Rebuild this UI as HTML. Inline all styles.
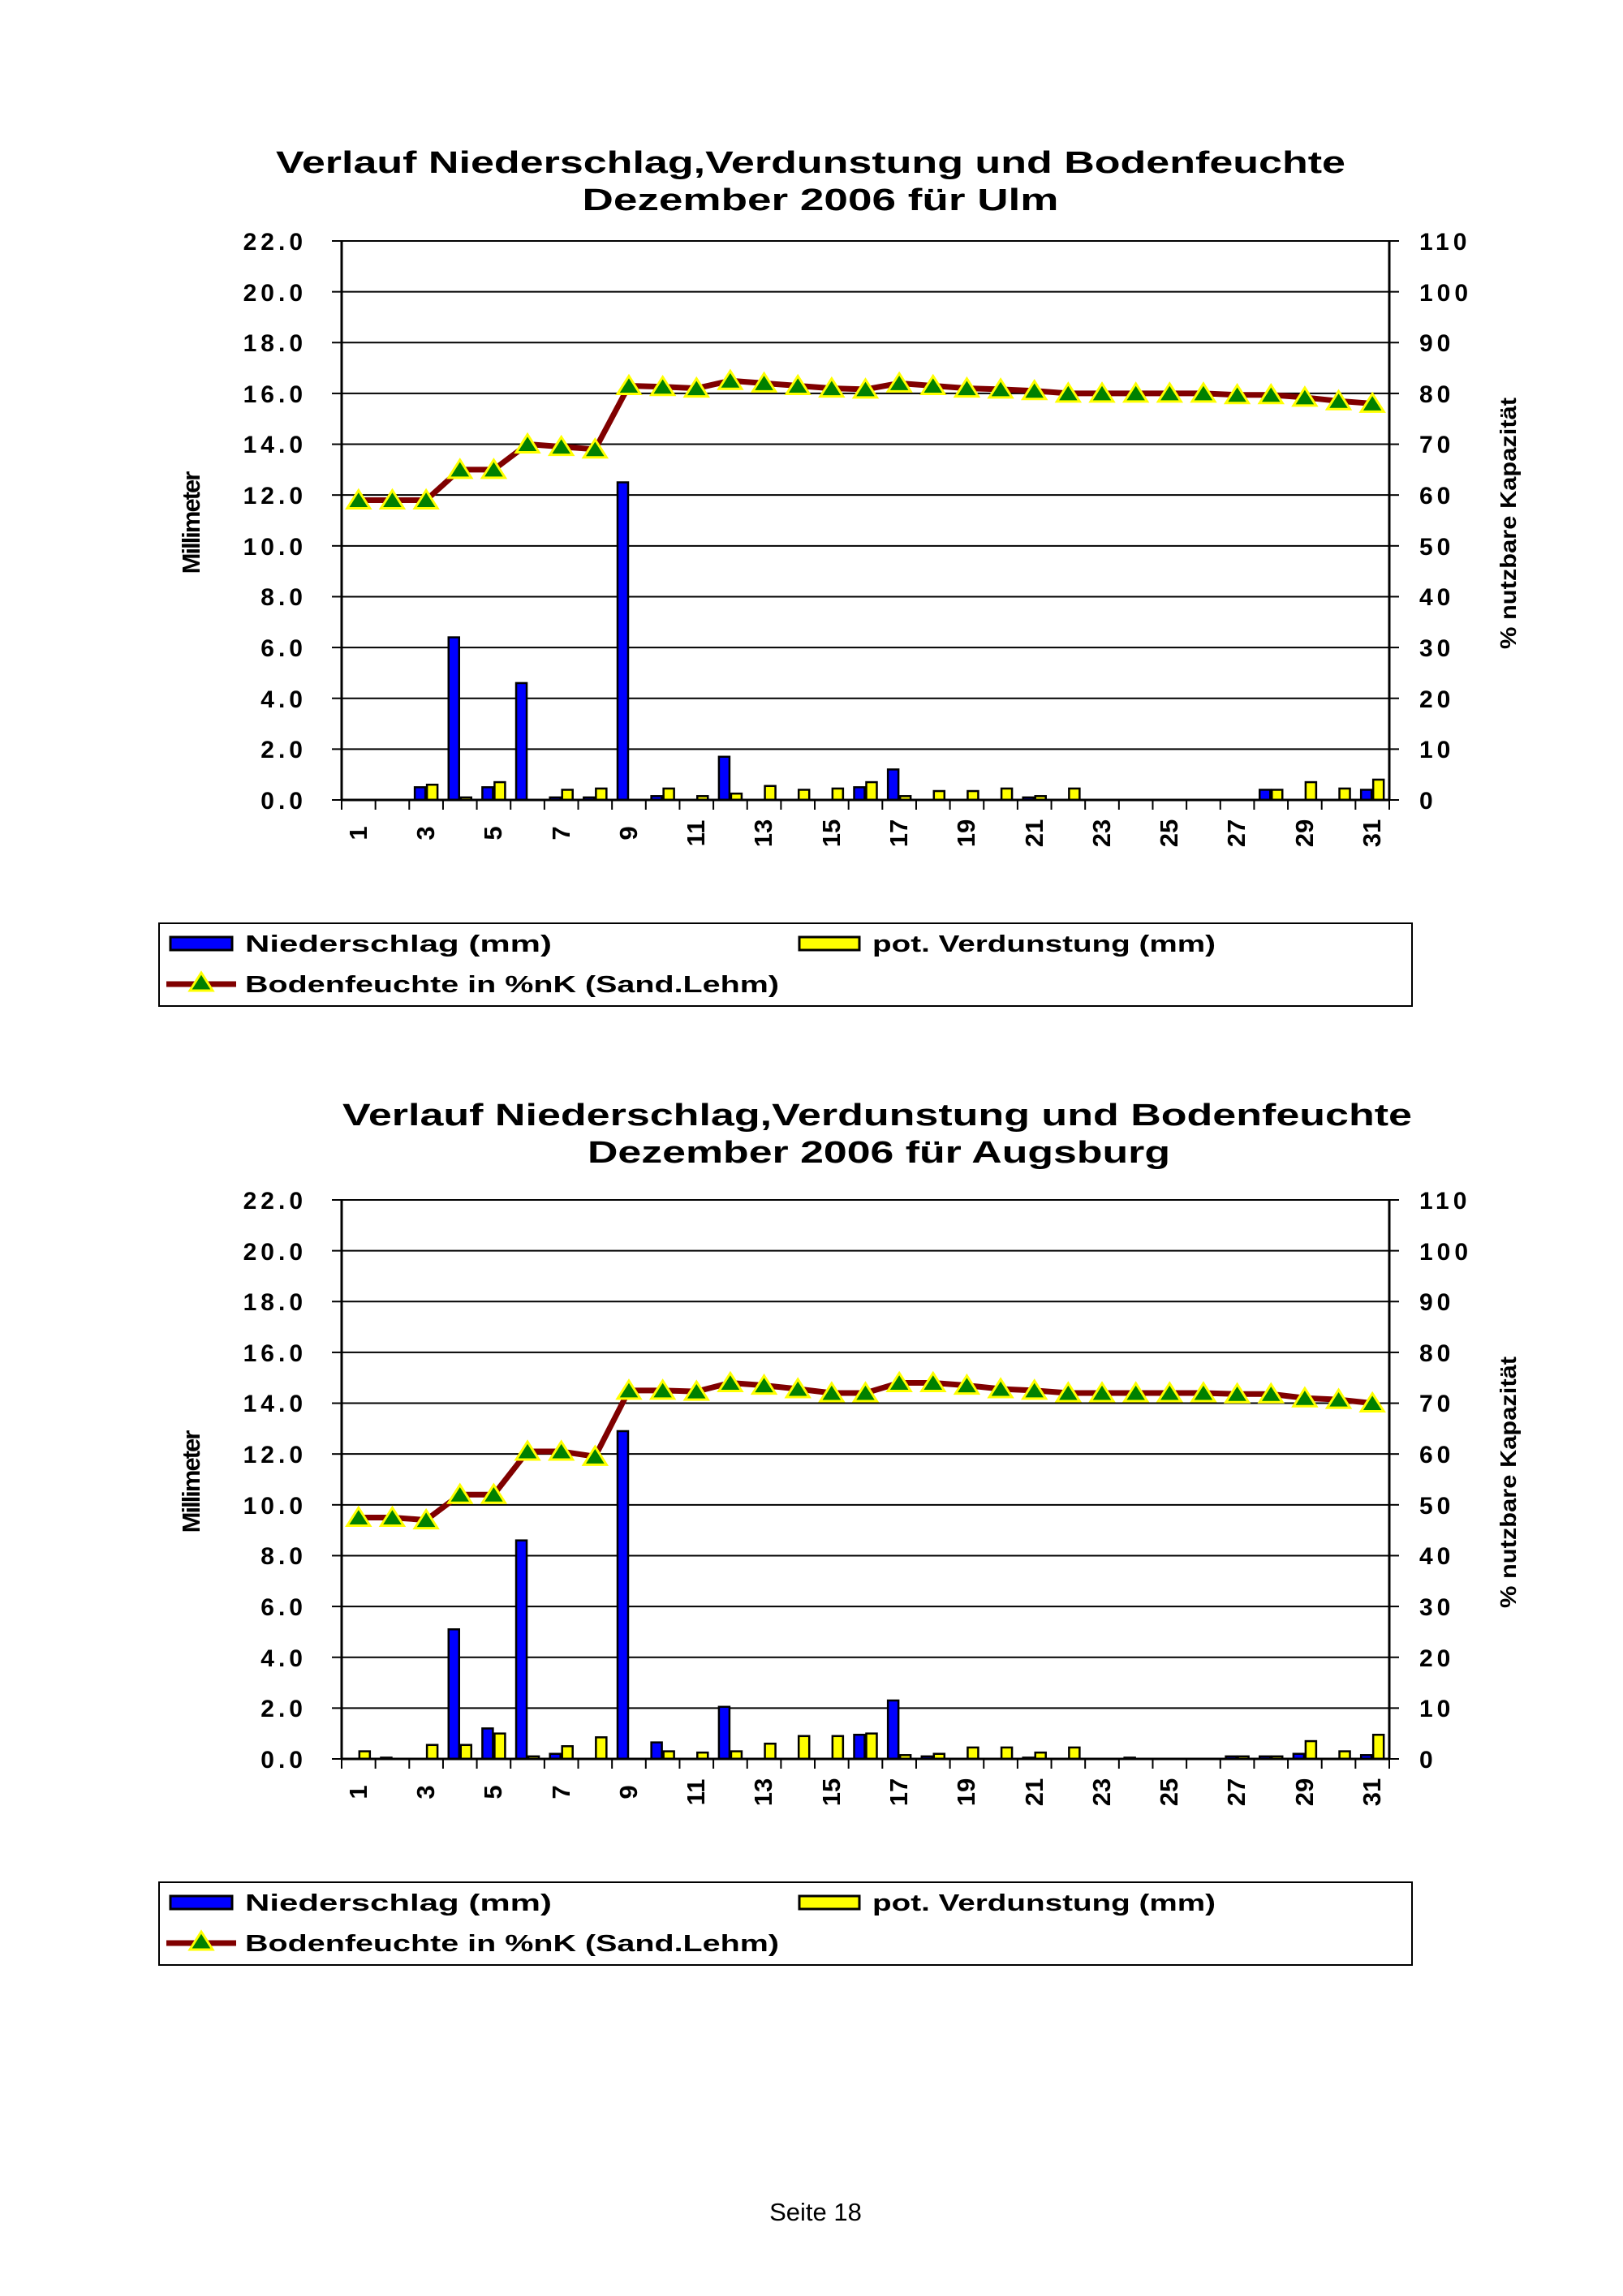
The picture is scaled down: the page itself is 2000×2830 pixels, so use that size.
<!DOCTYPE html>
<html><head><meta charset="utf-8"><style>
html,body{margin:0;padding:0;background:#fff}
svg{display:block}
text{font-family:"Liberation Sans",Arial,sans-serif;font-weight:bold;fill:#000}
.tk{font-size:30px;letter-spacing:5px}
.xl{font-size:31px}
</style></head><body>
<svg id="s" width="2000" height="2830" viewBox="0 0 2000 2830" xmlns="http://www.w3.org/2000/svg">
<rect width="2000" height="2830" fill="#fff"/>
<g id="c1">
<text x="999" y="213" font-size="38" textLength="1318" lengthAdjust="spacingAndGlyphs" text-anchor="middle">Verlauf Niederschlag,Verdunstung und Bodenfeuchte</text>
<text x="1011" y="259" font-size="38" textLength="587" lengthAdjust="spacingAndGlyphs" text-anchor="middle">Dezember 2006 für Ulm</text>
<g class="tk" text-anchor="end">
<text x="378" y="308">22.0</text><text x="378" y="371">20.0</text><text x="378" y="433">18.0</text><text x="378" y="496">16.0</text><text x="378" y="558">14.0</text><text x="378" y="621">12.0</text><text x="378" y="684">10.0</text><text x="378" y="746">8.0</text><text x="378" y="809">6.0</text><text x="378" y="872">4.0</text><text x="378" y="934">2.0</text><text x="378" y="997">0.0</text>
</g>
<g class="tk">
<text x="1749" y="308">110</text><text x="1749" y="371">100</text><text x="1749" y="433">90</text><text x="1749" y="496">80</text><text x="1749" y="558">70</text><text x="1749" y="621">60</text><text x="1749" y="684">50</text><text x="1749" y="746">40</text><text x="1749" y="809">30</text><text x="1749" y="872">20</text><text x="1749" y="934">10</text><text x="1749" y="997">0</text>
</g>
<g class="xl" text-anchor="middle">
<text transform="translate(452,1027) rotate(-90)">1</text><text transform="translate(535,1027) rotate(-90)">3</text><text transform="translate(618,1027) rotate(-90)">5</text><text transform="translate(702,1027) rotate(-90)">7</text><text transform="translate(785,1027) rotate(-90)">9</text><text transform="translate(868,1027) rotate(-90)">11</text><text transform="translate(951,1027) rotate(-90)">13</text><text transform="translate(1035,1027) rotate(-90)">15</text><text transform="translate(1118,1027) rotate(-90)">17</text><text transform="translate(1201,1027) rotate(-90)">19</text><text transform="translate(1285,1027) rotate(-90)">21</text><text transform="translate(1368,1027) rotate(-90)">23</text><text transform="translate(1451,1027) rotate(-90)">25</text><text transform="translate(1534,1027) rotate(-90)">27</text><text transform="translate(1618,1027) rotate(-90)">29</text><text transform="translate(1701,1027) rotate(-90)">31</text>
</g>
<text transform="translate(246,645) rotate(-90)" font-size="31" text-anchor="middle" letter-spacing="-2">Millimeter</text>
<text transform="translate(1868,645) rotate(-90)" font-size="28" text-anchor="middle" textLength="310" lengthAdjust="spacingAndGlyphs">% nutzbare Kapazität</text>
<rect x="196" y="1138" width="1544" height="102" fill="none" stroke="#000" stroke-width="2"/>
<rect x="210" y="1155" width="76" height="16" fill="#0000ff" stroke="#000" stroke-width="3"/>
<text x="302" y="1173" font-size="29" textLength="378" lengthAdjust="spacingAndGlyphs">Niederschlag (mm)</text>
<rect x="985" y="1155" width="74" height="16" fill="#ffff00" stroke="#000" stroke-width="3"/>
<text x="1075" y="1173" font-size="29" textLength="423" lengthAdjust="spacingAndGlyphs">pot. Verdunstung (mm)</text>
<line x1="205" y1="1213" x2="291" y2="1213" stroke="#800000" stroke-width="7"/>
<polygon points="248,1199 262,1221 234,1221" fill="#008000" stroke="#ffff00" stroke-width="3"/>
<text x="302" y="1223" font-size="29" textLength="658" lengthAdjust="spacingAndGlyphs">Bodenfeuchte in %nK (Sand.Lehm)</text>
<g id="p1"></g>
</g>
<g id="c2" transform="translate(0,1182)">
<text x="1081" y="205" font-size="38" textLength="1318" lengthAdjust="spacingAndGlyphs" text-anchor="middle">Verlauf Niederschlag,Verdunstung und Bodenfeuchte</text>
<text x="1083" y="251" font-size="38" textLength="718" lengthAdjust="spacingAndGlyphs" text-anchor="middle">Dezember 2006 für Augsburg</text>
<g class="tk" text-anchor="end">
<text x="378" y="308">22.0</text><text x="378" y="371">20.0</text><text x="378" y="433">18.0</text><text x="378" y="496">16.0</text><text x="378" y="558">14.0</text><text x="378" y="621">12.0</text><text x="378" y="684">10.0</text><text x="378" y="746">8.0</text><text x="378" y="809">6.0</text><text x="378" y="872">4.0</text><text x="378" y="934">2.0</text><text x="378" y="997">0.0</text>
</g>
<g class="tk">
<text x="1749" y="308">110</text><text x="1749" y="371">100</text><text x="1749" y="433">90</text><text x="1749" y="496">80</text><text x="1749" y="558">70</text><text x="1749" y="621">60</text><text x="1749" y="684">50</text><text x="1749" y="746">40</text><text x="1749" y="809">30</text><text x="1749" y="872">20</text><text x="1749" y="934">10</text><text x="1749" y="997">0</text>
</g>
<g class="xl" text-anchor="middle">
<text transform="translate(452,1027) rotate(-90)">1</text><text transform="translate(535,1027) rotate(-90)">3</text><text transform="translate(618,1027) rotate(-90)">5</text><text transform="translate(702,1027) rotate(-90)">7</text><text transform="translate(785,1027) rotate(-90)">9</text><text transform="translate(868,1027) rotate(-90)">11</text><text transform="translate(951,1027) rotate(-90)">13</text><text transform="translate(1035,1027) rotate(-90)">15</text><text transform="translate(1118,1027) rotate(-90)">17</text><text transform="translate(1201,1027) rotate(-90)">19</text><text transform="translate(1285,1027) rotate(-90)">21</text><text transform="translate(1368,1027) rotate(-90)">23</text><text transform="translate(1451,1027) rotate(-90)">25</text><text transform="translate(1534,1027) rotate(-90)">27</text><text transform="translate(1618,1027) rotate(-90)">29</text><text transform="translate(1701,1027) rotate(-90)">31</text>
</g>
<text transform="translate(246,645) rotate(-90)" font-size="31" text-anchor="middle" letter-spacing="-2">Millimeter</text>
<text transform="translate(1868,645) rotate(-90)" font-size="28" text-anchor="middle" textLength="310" lengthAdjust="spacingAndGlyphs">% nutzbare Kapazität</text>
<rect x="196" y="1138" width="1544" height="102" fill="none" stroke="#000" stroke-width="2"/>
<rect x="210" y="1155" width="76" height="16" fill="#0000ff" stroke="#000" stroke-width="3"/>
<text x="302" y="1173" font-size="29" textLength="378" lengthAdjust="spacingAndGlyphs">Niederschlag (mm)</text>
<rect x="985" y="1155" width="74" height="16" fill="#ffff00" stroke="#000" stroke-width="3"/>
<text x="1075" y="1173" font-size="29" textLength="423" lengthAdjust="spacingAndGlyphs">pot. Verdunstung (mm)</text>
<line x1="205" y1="1213" x2="291" y2="1213" stroke="#800000" stroke-width="7"/>
<polygon points="248,1199 262,1221 234,1221" fill="#008000" stroke="#ffff00" stroke-width="3"/>
<text x="302" y="1223" font-size="29" textLength="658" lengthAdjust="spacingAndGlyphs">Bodenfeuchte in %nK (Sand.Lehm)</text>
<g id="p2"></g>
</g>
<text x="1005" y="2737" font-size="31" text-anchor="middle" style="font-weight:normal">Seite 18</text>
</svg>
<script>
var L=421,R=1712,T=297,B=986,U=(B-T)/22,W=(R-L)/31;
function draw(id,soil,pr,ev){
 var g=document.getElementById(id),h='';
 for(var k=1;k<=11;k++){var y=B-k*2*U;h+='<line x1="'+L+'" y1="'+y+'" x2="'+R+'" y2="'+y+'" stroke="#000" stroke-width="2"/>';}
 for(var k=0;k<=11;k++){var y=B-k*2*U;h+='<line x1="'+(L-12)+'" y1="'+y+'" x2="'+L+'" y2="'+y+'" stroke="#000" stroke-width="2"/><line x1="'+R+'" y1="'+y+'" x2="'+(R+12)+'" y2="'+y+'" stroke="#000" stroke-width="2"/>';}
 for(var d=0;d<31;d++){var c=L+(d+0.5)*W;
  var p=pr[d]||0,e=ev[d]||0;
  if(p>0){var hh=p*U;h+='<rect x="'+(c-14)+'" y="'+(B-hh)+'" width="13" height="'+hh+'" fill="#0000ff" stroke="#000" stroke-width="2.5"/>';}
  if(e>0){var hh=e*U;h+='<rect x="'+(c+1)+'" y="'+(B-hh)+'" width="13" height="'+hh+'" fill="#ffff00" stroke="#000" stroke-width="2.5"/>';}
 }
 h+='<line x1="'+L+'" y1="'+T+'" x2="'+L+'" y2="'+B+'" stroke="#000" stroke-width="3"/><line x1="'+R+'" y1="'+T+'" x2="'+R+'" y2="'+B+'" stroke="#000" stroke-width="3"/><line x1="'+L+'" y1="'+B+'" x2="'+R+'" y2="'+B+'" stroke="#000" stroke-width="3"/>';
 for(var d=0;d<=31;d++){var x=L+d*W;h+='<line x1="'+x+'" y1="'+B+'" x2="'+x+'" y2="'+(B+12)+'" stroke="#000" stroke-width="2"/>';}
 var pts=[];for(var d=0;d<31;d++){pts.push((L+(d+0.5)*W)+','+(B-soil[d]/5*U));}
 h+='<polyline points="'+pts.join(' ')+'" fill="none" stroke="#800000" stroke-width="7" stroke-linejoin="round"/>';
 for(var d=0;d<31;d++){var x=L+(d+0.5)*W,y=B-soil[d]/5*U;h+='<polygon points="'+x+','+(y-12)+' '+(x+14)+','+(y+10)+' '+(x-14)+','+(y+10)+'" fill="#008000" stroke="#ffff00" stroke-width="3"/>';}
 g.innerHTML=h;
}
var s1=[59,59,59,65,65,70,69.5,69,81.5,81.3,81,82.5,82,81.5,81,80.8,82,81.5,81,80.8,80.5,80,80,80,80,80,79.7,79.7,79.2,78.5,78];
var p1=[0,0,0.5,6.4,0.5,4.6,0.1,0.1,12.5,0.15,0,1.7,0,0,0,0.5,1.2,0,0,0,0.1,0,0,0,0,0,0,0.4,0,0,0.4];
var e1=[0,0,0.6,0.1,0.7,0,0.4,0.45,0,0.45,0.15,0.25,0.55,0.4,0.45,0.7,0.15,0.35,0.35,0.45,0.15,0.45,0,0,0,0,0,0.4,0.7,0.45,0.8];
var s2=[47.5,47.5,47,52,52,60.5,60.5,59.5,72.5,72.5,72.3,74,73.5,72.8,72,72,74,74,73.5,72.8,72.5,72,72,72,72,72,71.8,71.8,71,70.7,70];
var p2=[0,0.05,0,5.1,1.2,8.6,0.2,0,12.9,0.65,0,2.05,0,0,0,0.95,2.3,0.1,0,0,0.05,0,0,0.05,0,0,0.1,0.1,0.2,0,0.15];
var e2=[0.3,0,0.55,0.55,1.0,0.1,0.5,0.85,0,0.3,0.25,0.3,0.6,0.9,0.9,1.0,0.15,0.2,0.45,0.45,0.25,0.45,0,0,0,0,0.1,0.1,0.7,0.3,0.95];
draw('p1',s1,p1,e1);draw('p2',s2,p2,e2);
</script>
</body></html>
